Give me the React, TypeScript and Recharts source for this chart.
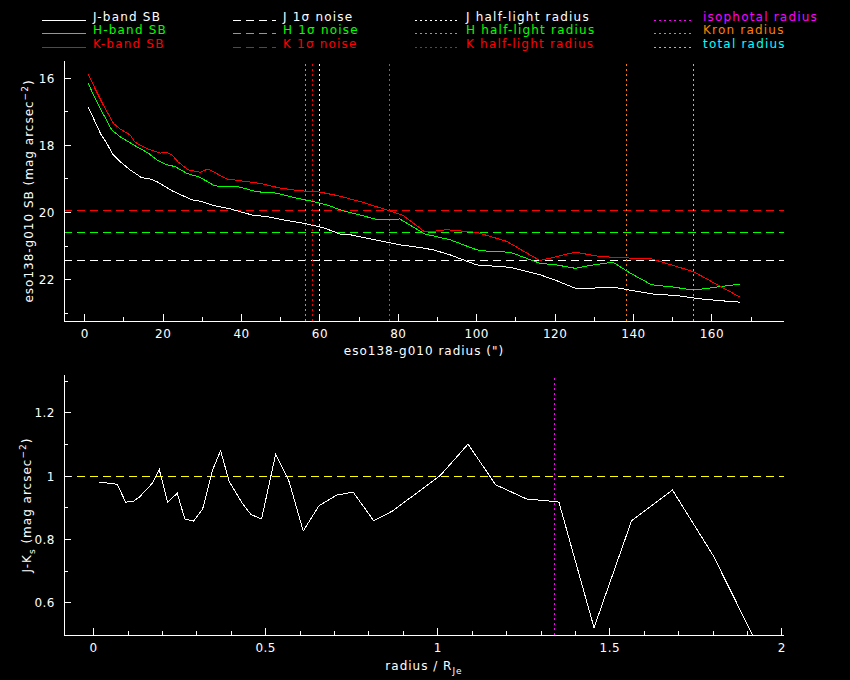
import React from 'react';
import { LineChart, Line, XAxis, YAxis, ReferenceLine } from 'recharts';

// ---- Top panel: surface brightness profiles ----
const jRadius = [0.9, 4.1, 5.4, 7.1, 9.0, 11.6, 14.5, 16.7, 18.4, 22.6, 27.3, 29.8, 32.8, 37.1, 42.6, 46.4, 49.8, 55.8, 60.9, 65.1, 67.7, 75.3, 80.4, 85.5, 88.9, 93.2, 100, 108.5, 116.1, 120.4, 125.1, 129.7, 134.8, 139.1, 145.1, 151, 157, 161.6, 167.2];
const jSB = [16.86, 17.67, 17.89, 18.26, 18.48, 18.73, 18.96, 19.0, 19.08, 19.37, 19.62, 19.67, 19.79, 19.89, 20.07, 20.12, 20.2, 20.32, 20.45, 20.64, 20.66, 20.84, 20.96, 21.04, 21.11, 21.26, 21.56, 21.63, 21.85, 22.03, 22.25, 22.25, 22.22, 22.31, 22.43, 22.47, 22.57, 22.62, 22.67];

const hRadius = [0.9, 2.2, 3.9, 6.9, 9.0, 11.1, 13.3, 16.2, 18.4, 20.5, 23.0, 26.0, 29.4, 32.8, 34.5, 39.2, 43.9, 49.0, 54.1, 58.3, 61.7, 66.0, 70.2, 74.9, 80.4, 86.8, 93.2, 100, 103.4, 108.5, 116.1, 120.4, 125.1, 129.7, 134.8, 139.1, 144.6, 150.2, 155.3, 161.2, 167.2];
const hSB = [16.15, 16.5, 16.89, 17.54, 17.74, 17.89, 18.04, 18.23, 18.43, 18.56, 18.63, 18.83, 18.95, 19.18, 19.23, 19.23, 19.38, 19.42, 19.57, 19.67, 19.77, 19.95, 20.07, 20.22, 20.19, 20.64, 20.81, 21.11, 21.16, 21.18, 21.51, 21.56, 21.66, 21.56, 21.48, 21.8, 22.15, 22.22, 22.31, 22.22, 22.13];

const kRadius = [0.9, 2.6, 4.7, 7.3, 9.0, 11.6, 12.8, 14.9, 16.7, 19.2, 20.9, 22.2, 23.9, 26.4, 29.4, 31.5, 36.2, 39.6, 44.7, 49.8, 54.9, 60.0, 64.3, 70.2, 76.2, 81.3, 86.8, 88.9, 92.3, 100, 107.7, 116.1, 125.1, 131.5, 139.9, 144.6, 155.3, 167.2];
const kSB = [15.88, 16.3, 16.79, 17.34, 17.51, 17.69, 17.9, 18.04, 18.13, 18.23, 18.2, 18.28, 18.5, 18.73, 18.8, 18.7, 19.0, 19.05, 19.13, 19.27, 19.35, 19.39, 19.49, 19.67, 19.89, 20.09, 20.58, 20.56, 20.51, 20.59, 20.86, 21.43, 21.18, 21.31, 21.36, 21.38, 21.76, 22.52];

const noiseLevels = [
  { value: 21.43, color: '#ffffff' },
  { value: 20.6, color: '#00ff00' },
  { value: 19.94, color: '#ff0000' },
];
const radiusMarkers = [
  { value: 56.3, color: '#00ff00' },
  { value: 58.1, color: '#ff0000' },
  { value: 59.85, color: '#ffffff' },
  { value: 77.7, color: '#ff00ff' },
  { value: 138.2, color: '#ff8000' },
  { value: 155.3, color: '#00ffff' },
];
const topXTicks = [0, 10, 20, 30, 40, 50, 60, 70, 80, 90, 100, 110, 120, 130, 140, 150, 160, 170];
const topYTicks = [16, 17, 18, 19, 20, 21, 22, 23];
const topXDomain = [-5.3, 178.4];
const topYDomain = [15.485, 23.23];

// ---- Bottom panel: J-Ks colour profile ----
const colorRadius = [0.016, 0.052, 0.069, 0.093, 0.115, 0.134, 0.171, 0.191, 0.215, 0.243, 0.265, 0.29, 0.317, 0.345, 0.369, 0.394, 0.43, 0.457, 0.488, 0.529, 0.568, 0.609, 0.655, 0.706, 0.754, 0.814, 0.87, 1.008, 1.088, 1.168, 1.258, 1.338, 1.352, 1.454, 1.563, 1.682, 1.8, 1.96];
const colorJK = [0.981, 0.977, 0.974, 0.918, 0.92, 0.935, 0.978, 1.02, 0.918, 0.946, 0.865, 0.858, 0.897, 1.018, 1.08, 0.983, 0.918, 0.879, 0.865, 1.069, 0.983, 0.827, 0.907, 0.94, 0.95, 0.859, 0.891, 1.003, 1.101, 0.973, 0.928, 0.92, 0.918, 0.522, 0.859, 0.956, 0.75, 0.4];
const colorRef = 1.0;
const isophotalRatio = 1.338;
const botXTicks = [0, 0.1, 0.2, 0.3, 0.4, 0.5, 0.6, 0.7, 0.8, 0.9, 1, 1.1, 1.2, 1.3, 1.4, 1.5, 1.6, 1.7, 1.8, 1.9, 2];
const botYTicks = [0.6, 0.7, 0.8, 0.9, 1, 1.1, 1.2, 1.3];
const botXDomain = [-0.086, 2.006];
const botYDomain = [0.499, 1.319];

const jData = jRadius.map((r, i) => ({ r, v: jSB[i] }));
const hData = hRadius.map((r, i) => ({ r, v: hSB[i] }));
const kData = kRadius.map((r, i) => ({ r, v: kSB[i] }));
const cData = colorRadius.map((r, i) => ({ r, v: colorJK[i] }));

const FONT = '"DejaVu Sans", sans-serif';
const near = (a: number, b: number) => Math.abs(a - b) < 1e-6;

type Side = 'bottom' | 'top' | 'left' | 'right';
function makeTick(side: Side, isMajor: (v: number) => boolean, fmt?: (v: number) => string) {
  return (props: any) => {
    const { x, y, payload } = props;
    const v = payload.value as number;
    const major = isMajor(v);
    const len = major ? 7 : 4;
    let x2 = x, y2 = y;
    if (side === 'bottom') y2 = y - len;
    if (side === 'top') y2 = y + len;
    if (side === 'left') x2 = x + len;
    if (side === 'right') x2 = x - len;
    let label = null;
    if (fmt && major) {
      if (side === 'bottom') {
        label = (
          <text x={x} y={y + 17} textAnchor="middle" fill="#fff" fontSize={12} fontFamily={FONT} letterSpacing={0.5}>
            {fmt(v)}
          </text>
        );
      } else if (side === 'left') {
        label = (
          <text x={x - 9} y={y + 4.5} textAnchor="end" fill="#fff" fontSize={12} fontFamily={FONT} letterSpacing={0.5}>
            {fmt(v)}
          </text>
        );
      }
    }
    return (
      <g>
        <line x1={x} y1={y} x2={x2} y2={y2} stroke="#fff" strokeWidth={1} shapeRendering="crispEdges" />
        {label}
      </g>
    );
  };
}

const topXMajor = (v: number) => near(v % 20, 0);
const topYMajor = (v: number) => near(v % 2, 0);
const botXMajor = (v: number) => near(Math.round(v * 10) % 5, 0);
const botYMajor = (v: number) => near(Math.round(v * 10) % 2, 0);
const fmtNum = (v: number) => String(Math.round(v * 10) / 10);

const axisLine = { stroke: '#ffffff', strokeWidth: 1, shapeRendering: 'crispEdges' };

const legendRows = [
  [
    { text: 'J-band SB', color: '#ffffff', kind: 'solid' },
    { text: 'H-band SB', color: '#00ff00', kind: 'solid' },
    { text: 'K-band SB', color: '#ff0000', kind: 'solid' },
  ],
  [
    { text: 'J 1σ noise', color: '#ffffff', kind: 'dash' },
    { text: 'H 1σ noise', color: '#00ff00', kind: 'dash' },
    { text: 'K 1σ noise', color: '#ff0000', kind: 'dash' },
  ],
  [
    { text: 'J half-light radius', color: '#ffffff', kind: 'dot' },
    { text: 'H half-light radius', color: '#00ff00', kind: 'dot' },
    { text: 'K half-light radius', color: '#ff0000', kind: 'dot' },
  ],
  [
    { text: 'isophotal radius', color: '#ff00ff', kind: 'dot' },
    { text: 'Kron radius', color: '#ff8000', kind: 'dot' },
    { text: 'total radius', color: '#00ffff', kind: 'dot' },
  ],
];
const legendCols = [
  { x1: 42, x2: 86, tx: 93 },
  { x1: 233, x2: 276, tx: 283 },
  { x1: 415, x2: 457, tx: 466 },
  { x1: 654, x2: 693, tx: 703 },
];
const legendY = [20.5, 33.5, 47.5];

function Legend() {
  return (
    <svg width={850} height={60} style={{ position: 'absolute', left: 0, top: 0 }}>
      {legendRows.map((col, ci) =>
        col.map((item, ri) => {
          const c = legendCols[ci];
          const y = legendY[ri];
          const dash = item.kind === 'dash' ? '8 5' : item.kind === 'dot' ? '2 3' : undefined;
          return (
            <g key={`${ci}-${ri}`}>
              <line x1={c.x1} y1={y} x2={c.x2} y2={y} stroke={item.color} strokeWidth={1} strokeDasharray={dash} shapeRendering="crispEdges" />
              <text x={c.tx} y={y + 0.5} fill={item.color} fontSize={12} fontFamily={FONT} letterSpacing={1.2}>
                {item.text}
              </text>
            </g>
          );
        })
      )}
    </svg>
  );
}

function Labels() {
  return (
    <svg width={850} height={680} style={{ position: 'absolute', left: 0, top: 0, pointerEvents: 'none' }}>
      <text x={424} y={355} textAnchor="middle" fill="#fff" fontSize={12} fontFamily={FONT} letterSpacing={1}>
        eso138-g010 radius (")
      </text>
      <text transform="translate(33,191) rotate(-90)" textAnchor="middle" fill="#fff" fontSize={12} fontFamily={FONT} letterSpacing={1}>
        eso138-g010 SB (mag arcsec
        <tspan dy={-5} fontSize={9}>−2</tspan>
        <tspan dy={5}>)</tspan>
      </text>
      <text x={424} y={670} textAnchor="middle" fill="#fff" fontSize={12} fontFamily={FONT} letterSpacing={1}>
        radius / R
        <tspan dy={4} fontSize={9}>Je</tspan>
      </text>
      <text transform="translate(31,505) rotate(-90)" textAnchor="middle" fill="#fff" fontSize={12} fontFamily={FONT} letterSpacing={1}>
        J-K
        <tspan dy={4} fontSize={9}>s</tspan>
        <tspan dy={-4}> (mag arcsec</tspan>
        <tspan dy={-5} fontSize={9}>−2</tspan>
        <tspan dy={5}>)</tspan>
      </text>
    </svg>
  );
}

export default function App() {
  return (
    <div style={{ position: 'absolute', left: 0, top: 0, width: 850, height: 680, background: '#000', overflow: 'hidden', shapeRendering: 'crispEdges' } as any}>
      <Legend />
      <div style={{ position: 'absolute', left: 0, top: 0 }}>
        <LineChart width={850} height={360} margin={{ top: 61, right: 66, bottom: 0, left: 0 }}>
          <XAxis xAxisId="b" type="number" dataKey="r" domain={topXDomain} ticks={topXTicks} interval={0} allowDataOverflow
            orientation="bottom" height={39} tickSize={0} tickMargin={0} tickLine={false} axisLine={axisLine}
            tick={makeTick('bottom', topXMajor, fmtNum)} />
          <XAxis xAxisId="t" type="number" dataKey="r" domain={topXDomain} ticks={topXTicks} interval={0} allowDataOverflow
            orientation="top" height={0} tickSize={0} tickMargin={0} tickLine={false} axisLine={axisLine}
            tick={makeTick('top', topXMajor)} />
          <YAxis yAxisId="l" type="number" domain={topYDomain} ticks={topYTicks} interval={0} allowDataOverflow reversed
            orientation="left" width={64} tickSize={0} tickMargin={0} tickLine={false} axisLine={axisLine}
            tick={makeTick('left', topYMajor, fmtNum)} />
          <YAxis yAxisId="r" type="number" domain={topYDomain} ticks={topYTicks} interval={0} allowDataOverflow reversed
            orientation="right" width={0} tickSize={0} tickMargin={0} tickLine={false} axisLine={axisLine}
            tick={makeTick('right', topYMajor)} />
          {noiseLevels.map((n, i) => (
            <ReferenceLine key={`n${i}`} xAxisId="b" yAxisId="l" y={n.value} stroke={n.color} strokeDasharray="8 5" strokeWidth={1} ifOverflow="hidden" shapeRendering="crispEdges" />
          ))}
          {radiusMarkers.map((m, i) => (
            <ReferenceLine key={`m${i}`} xAxisId="b" yAxisId="l" x={m.value} stroke={m.color} strokeDasharray="2 3" strokeWidth={1} ifOverflow="hidden" shapeRendering="crispEdges" />
          ))}
          <Line xAxisId="b" yAxisId="l" data={jData} dataKey="v" stroke="#ffffff" strokeWidth={1} dot={false} isAnimationActive={false} type="linear" />
          <Line xAxisId="b" yAxisId="l" data={hData} dataKey="v" stroke="#00ff00" strokeWidth={1} dot={false} isAnimationActive={false} type="linear" />
          <Line xAxisId="b" yAxisId="l" data={kData} dataKey="v" stroke="#ff0000" strokeWidth={1} dot={false} isAnimationActive={false} type="linear" />
        </LineChart>
      </div>
      <div style={{ position: 'absolute', left: 0, top: 360 }}>
        <LineChart width={850} height={320} margin={{ top: 15, right: 66, bottom: 0, left: 0 }}>
          <XAxis xAxisId="b" type="number" dataKey="r" domain={botXDomain} ticks={botXTicks} interval={0} allowDataOverflow
            orientation="bottom" height={45} tickSize={0} tickMargin={0} tickLine={false} axisLine={axisLine}
            tick={makeTick('bottom', botXMajor, fmtNum)} />
          <XAxis xAxisId="t" type="number" dataKey="r" domain={botXDomain} ticks={botXTicks} interval={0} allowDataOverflow
            orientation="top" height={0} tickSize={0} tickMargin={0} tickLine={false} axisLine={axisLine}
            tick={makeTick('top', botXMajor)} />
          <YAxis yAxisId="l" type="number" domain={botYDomain} ticks={botYTicks} interval={0} allowDataOverflow
            orientation="left" width={64} tickSize={0} tickMargin={0} tickLine={false} axisLine={axisLine}
            tick={makeTick('left', botYMajor, fmtNum)} />
          <YAxis yAxisId="r" type="number" domain={botYDomain} ticks={botYTicks} interval={0} allowDataOverflow
            orientation="right" width={0} tickSize={0} tickMargin={0} tickLine={false} axisLine={axisLine}
            tick={makeTick('right', botYMajor)} />
          <ReferenceLine xAxisId="b" yAxisId="l" y={colorRef} stroke="#ffff00" strokeDasharray="8 5" strokeWidth={1} shapeRendering="crispEdges" />
          <ReferenceLine xAxisId="b" yAxisId="l" x={isophotalRatio} stroke="#ff00ff" strokeDasharray="2 3" strokeWidth={1} shapeRendering="crispEdges" />
          <Line xAxisId="b" yAxisId="l" data={cData} dataKey="v" stroke="#ffffff" strokeWidth={1} dot={false} isAnimationActive={false} type="linear" />
        </LineChart>
      </div>
      <Labels />
    </div>
  );
}
